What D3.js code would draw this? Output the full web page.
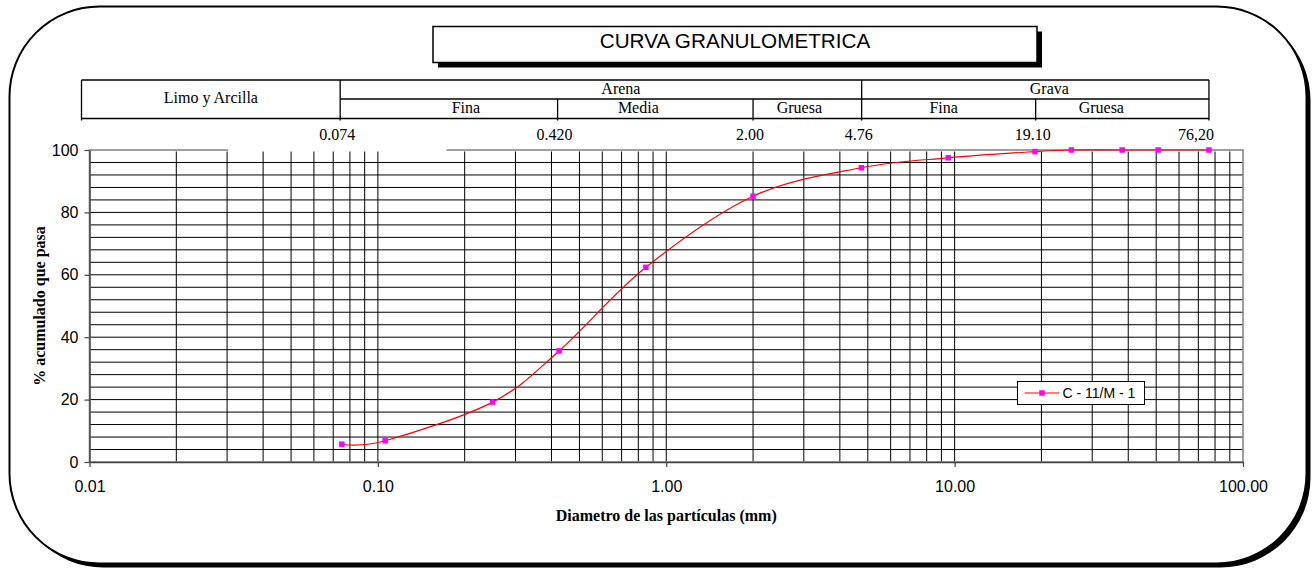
<!DOCTYPE html>
<html>
<head>
<meta charset="utf-8">
<script src="https://cdn.jsdelivr.net/npm/d3@7"></script>
<style>
  body { margin: 0; background: #fff; }
  svg { display: block; }
</style>
</head>
<body>
<svg id="chart" width="1313" height="569"></svg>
<script>
// Sieve analysis: particle size (mm) vs cumulative % passing
const sizes   = [0.075, 0.106, 0.25, 0.425, 0.85, 2.0, 4.75, 9.5, 19.0, 25.4, 38.1, 50.8, 76.2];
const passing = [5.7, 6.8, 19.2, 35.6, 62.4, 85.2, 94.3, 97.5, 99.5, 100, 100, 100, 100];
const seriesName = "C - 11/M - 1";

// Soil classification bands (mm)
const sieveLimits = [0.074, 0.42, 2.0, 4.76, 19.1, 76.2];
const sieveLabels = ["0.074", "0.420", "2.00", "4.76", "19.10", "76,20"];
const groupNames  = ["Arena", "Grava"];
const groupEdges  = [[0.074, 4.76], [4.76, 76.2]];
const subNames    = ["Fina", "Media", "Gruesa", "Fina", "Gruesa"];
const subEdges    = [[0.074, 0.42], [0.42, 2.0], [2.0, 4.76], [4.76, 19.1], [19.1, 76.2]];
const finesName   = "Limo y Arcilla";

// Axis ticks
const xTicks = [0.01, 0.1, 1, 10, 100];
const yTicks = [0, 20, 40, 60, 80, 100];

const SERIF = "'Liberation Serif', 'Times New Roman', serif";
const SANS = "'Liberation Sans', Arial, sans-serif";

const svg = d3.select("#chart");
const plot = { left: 89.5, right: 1243, top: 150, bottom: 462 };

const x = d3.scaleLog().domain([0.01, 100]).range([plot.left, plot.right]);
const y = d3.scaleLinear().domain([0, 100]).range([plot.bottom, plot.top]);

// Rounded outer frame with drop shadow
svg.append("rect").attr("x", 13.5).attr("y", 10.5).attr("width", 1297).attr("height", 557)
  .attr("rx", 90).attr("ry", 90).attr("fill", "#000");
svg.append("rect").attr("x", 9.5).attr("y", 6.5).attr("width", 1297).attr("height", 557)
  .attr("rx", 90).attr("ry", 90).attr("fill", "#fff").attr("stroke", "#000").attr("stroke-width", 2);

// Title box with shadow
svg.append("rect").attr("x", 438).attr("y", 31.5).attr("width", 604).attr("height", 36).attr("fill", "#000");
svg.append("rect").attr("x", 433).attr("y", 26.5).attr("width", 604).attr("height", 36)
  .attr("fill", "#fff").attr("stroke", "#000").attr("stroke-width", 1.5);
svg.append("text").attr("x", 735).attr("y", 47.5).attr("text-anchor", "middle")
  .attr("font-family", SANS).attr("font-size", 20.7).text("CURVA GRANULOMETRICA");

// Classification header table
const hdr = svg.append("g").attr("stroke", "#000").attr("stroke-width", 1.3);
const tTop = 80, tMid = 99, tBot = 118.5, tLeft = plot.left - 8;
const tRight = x(sieveLimits[sieveLimits.length - 1]);
hdr.append("line").attr("x1", tLeft).attr("x2", tRight).attr("y1", tTop).attr("y2", tTop);
hdr.append("line").attr("x1", tLeft).attr("x2", tRight).attr("y1", tBot).attr("y2", tBot);
hdr.append("line").attr("x1", x(sieveLimits[0])).attr("x2", tRight).attr("y1", tMid).attr("y2", tMid);
hdr.append("line").attr("x1", tLeft).attr("x2", tLeft).attr("y1", tTop).attr("y2", tBot + 2);
// full-height dividers at group edges, half-height at sub-band edges
const groupBreaks = new Set(groupEdges.flat());
sieveLimits.forEach(v => {
  const full = groupBreaks.has(v);
  hdr.append("line").attr("x1", x(v)).attr("x2", x(v))
    .attr("y1", full ? tTop : tMid).attr("y2", tBot + 2);
});

// text nudges inside the header cells
const groupShift = [20, 14];
const subShift = [17, -17, -8, -5, -21];
const hText = svg.append("g").attr("font-family", SERIF).attr("font-size", 16)
  .attr("text-anchor", "middle").attr("fill", "#000");
hText.append("text").attr("x", (tLeft + x(sieveLimits[0])) / 2).attr("y", 102.5).text(finesName);
groupNames.forEach((n, i) => {
  const [a, b] = groupEdges[i];
  hText.append("text").attr("x", (x(a) + x(b)) / 2 + groupShift[i]).attr("y", 94).text(n);
});
subNames.forEach((n, i) => {
  const [a, b] = subEdges[i];
  hText.append("text").attr("x", (x(a) + x(b)) / 2 + subShift[i]).attr("y", 113).text(n);
});
sieveLabels.forEach((lab, i) => {
  const last = i === sieveLabels.length - 1;
  hText.append("text")
    .attr("x", last ? x(sieveLimits[i]) + 5 : x(sieveLimits[i]) - 3)
    .attr("y", 139.5)
    .attr("text-anchor", last ? "end" : "middle")
    .text(lab);
});

// Grid
const grid = svg.append("g").attr("stroke", "#000").attr("stroke-width", 1);
d3.range(4, 100, 4).forEach(v => {
  grid.append("line").attr("x1", plot.left).attr("x2", plot.right).attr("y1", y(v)).attr("y2", y(v));
});
const minor = [];
[0.01, 0.1, 1, 10].forEach(dec => {
  for (let k = 1; k <= 9; k++) {
    const v = dec * k;
    if (v > 0.01) minor.push(v);
  }
});
minor.forEach(v => {
  grid.append("line").attr("x1", x(v)).attr("x2", x(v)).attr("y1", plot.top + 1.5).attr("y2", plot.bottom);
});

// Plot border
svg.append("rect").attr("x", plot.left).attr("y", plot.top)
  .attr("width", plot.right - plot.left).attr("height", plot.bottom - plot.top)
  .attr("fill", "none").attr("stroke", "#888").attr("stroke-width", 1.6);
// white backing behind the upper sieve labels
svg.append("rect").attr("x", x(0.03) + 1).attr("y", 147.5)
  .attr("width", 446.5 - x(0.03) - 1).attr("height", 3.6).attr("fill", "#fff");

// Axes
const yAxis = svg.append("g").attr("transform", `translate(${plot.left},0)`)
  .call(d3.axisLeft(y).tickValues(yTicks).tickFormat(d3.format("d")).tickSize(5).tickSizeOuter(0).tickPadding(6));
const xAxis = svg.append("g").attr("transform", `translate(0,${plot.bottom})`)
  .call(d3.axisBottom(x).tickValues(xTicks).tickFormat(d3.format(".2f")).tickSize(5).tickSizeOuter(0).tickPadding(13.5));
[yAxis, xAxis].forEach(g => {
  g.selectAll("path.domain").attr("stroke", "#444").attr("stroke-width", 1.5);
  g.selectAll(".tick line").attr("stroke", "#444").attr("stroke-width", 1.2);
  g.selectAll("text").attr("font-family", SANS).attr("font-size", 16).attr("fill", "#000");
});

// Axis titles
svg.append("text").attr("x", (plot.left + plot.right) / 2).attr("y", 521)
  .attr("text-anchor", "middle").attr("font-family", SERIF).attr("font-weight", "bold")
  .attr("font-size", 16).text("Diametro de las partículas (mm)");
svg.append("text").attr("transform", `translate(45,${(plot.top + plot.bottom) / 2}) rotate(-90)`)
  .attr("text-anchor", "middle").attr("font-family", SERIF).attr("font-weight", "bold")
  .attr("font-size", 16).text("% acumulado que pasa");

// Gradation curve
const pts = sizes.map((s, i) => [s, passing[i]]);
svg.append("path").datum(pts)
  .attr("fill", "none").attr("stroke", "#ff0000").attr("stroke-width", 1.2)
  .attr("d", d3.line().x(d => x(d[0])).y(d => y(d[1])).curve(d3.curveCatmullRom.alpha(0)));
const M = 5.5;
svg.append("g").selectAll("rect").data(pts).join("rect")
  .attr("x", d => x(d[0]) - M / 2).attr("y", d => y(d[1]) - M / 2)
  .attr("width", M).attr("height", M).attr("fill", "#ff00ff");

// Legend
const lg = svg.append("g").attr("transform", "translate(1017.5,381.5)");
lg.append("rect").attr("width", 127).attr("height", 23).attr("fill", "#fff")
  .attr("stroke", "#000").attr("stroke-width", 1);
lg.append("line").attr("x1", 7).attr("x2", 42).attr("y1", 11.5).attr("y2", 11.5)
  .attr("stroke", "#ff0000").attr("stroke-width", 1.2);
lg.append("rect").attr("x", 24.5 - M / 2).attr("y", 11.5 - M / 2).attr("width", M).attr("height", M)
  .attr("fill", "#ff00ff");
lg.append("text").attr("x", 45).attr("y", 16.5).attr("font-family", SANS).attr("font-size", 14)
  .text(seriesName);
</script>
</body>
</html>
